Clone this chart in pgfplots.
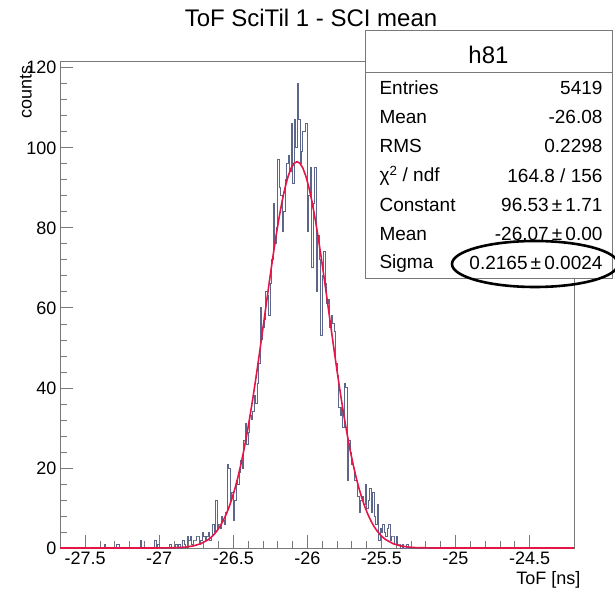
\documentclass[border=0pt]{standalone}
\usepackage{fontspec}
\setmainfont{Liberation Sans}
\usepackage{pgfplots}
\pgfplotsset{compat=1.18}
\definecolor{histc}{RGB}{92,102,138}
\definecolor{fitc}{RGB}{228,22,72}
\definecolor{framec}{RGB}{120,120,120}

\begin{document}
\begin{tikzpicture}[x=1pt,y=1pt]
\useasboundingbox (0,0) rectangle (615,594);
\begin{axis}[at={(60pt,46pt)}, anchor=south west, scale only axis, width=514pt, height=487pt,
 xmin=-27.67, xmax=-24.2, ymin=0, ymax=121.7,
 axis line style={framec, line width=0.8pt},
 xtick={-27.5,-27,-26.5,-26,-25.5,-25,-24.5},
 xticklabels={-27.5,-27,-26.5,-26,-25.5,-25,-24.5},
 ytick={0,20,40,60,80,100,120},
 yticklabels={0,20,40,60,80,100,120},
 minor x tick num=4, minor y tick num=4,
 tick align=inside, xtick pos=bottom, ytick pos=left,
 major tick length=13pt, minor tick length=7pt,
 tick style={framec, line width=0.8pt},
 ticklabel style={font=\fontsize{18}{20}\selectfont},
 clip=false,
]
% histogram (bin left edges, width 0.01 ns)
\addplot[const plot, histc, line width=0.9pt] coordinates {
(-27.67,0) (-27.37,1) (-27.36,0) (-27.29,1) (-27.27,0) (-27.13,2) (-27.12,0)
(-27.03,2) (-27.02,0) (-27.01,1) (-27.00,0) (-26.93,1) (-26.92,0) (-26.89,1) (-26.88,0)
(-26.87,1) (-26.86,0) (-26.84,2) (-26.83,1) (-26.82,0) (-26.81,3) (-26.80,2) (-26.79,3)
(-26.78,1) (-26.77,2) (-26.76,2) (-26.75,3) (-26.74,3) (-26.73,1) (-26.72,2) (-26.71,4)
(-26.70,3) (-26.69,2) (-26.68,3) (-26.67,4) (-26.66,2) (-26.65,3) (-26.64,6) (-26.63,4)
(-26.62,12) (-26.61,5) (-26.60,6) (-26.59,5) (-26.58,8) (-26.57,7) (-26.56,6) (-26.55,9)
(-26.54,21) (-26.53,20) (-26.52,12) (-26.51,14) (-26.50,7) (-26.49,12) (-26.48,17)
(-26.47,16) (-26.46,19) (-26.45,22) (-26.44,20) (-26.43,27) (-26.42,31) (-26.41,26)
(-26.40,29) (-26.39,33) (-26.38,32) (-26.37,34) (-26.36,38) (-26.35,36) (-26.34,41)
(-26.33,46) (-26.32,60) (-26.31,52) (-26.30,55) (-26.29,57) (-26.28,64) (-26.27,63)
(-26.26,58) (-26.25,66) (-26.24,72) (-26.23,86) (-26.22,76) (-26.21,80) (-26.20,97)
(-26.19,90) (-26.18,88) (-26.17,79) (-26.16,84) (-26.15,92) (-26.14,96) (-26.13,98)
(-26.12,94) (-26.11,106) (-26.10,91) (-26.09,107) (-26.08,100) (-26.07,116) (-26.06,107)
(-26.05,96) (-26.04,99) (-26.03,104) (-26.02,104) (-26.01,106) (-26.00,79) (-25.99,88)
(-25.98,95) (-25.97,70) (-25.96,86) (-25.95,95) (-25.94,64) (-25.93,78) (-25.92,72)
(-25.91,53) (-25.90,68) (-25.89,74) (-25.88,66) (-25.87,61) (-25.86,62) (-25.85,55)
(-25.84,58) (-25.83,56) (-25.82,54) (-25.81,46) (-25.80,43) (-25.79,35) (-25.78,33)
(-25.77,35) (-25.76,30) (-25.75,41) (-25.74,40) (-25.73,17) (-25.72,27) (-25.71,24)
(-25.70,21) (-25.69,20) (-25.68,17) (-25.67,17) (-25.66,13) (-25.65,9) (-25.64,12)
(-25.63,13) (-25.62,11) (-25.61,16) (-25.60,10) (-25.59,12) (-25.58,15) (-25.57,9)
(-25.56,14) (-25.55,8) (-25.54,6) (-25.53,11) (-25.52,2) (-25.51,5) (-25.50,4)
(-25.49,6) (-25.48,4) (-25.47,3) (-25.46,5) (-25.45,6) (-25.44,2) (-25.43,3) (-25.42,3)
(-25.41,1) (-25.40,3) (-25.39,1) (-25.38,1) (-25.37,0) (-25.36,1) (-25.35,0)
(-25.33,1) (-25.32,0) (-24.20,0)
};
% Gaussian fit curve (sampled)
\addplot[fitc, line width=1.6pt] coordinates {
(-27.67,0) (-27.07,0) (-26.97,0.02) (-26.87,0.10) (-26.82,0.24) (-26.77,0.52)
(-26.72,1.06) (-26.67,2.07) (-26.65,2.67) (-26.63,3.40) (-26.61,4.30) (-26.59,5.39)
(-26.57,6.71) (-26.55,8.27) (-26.53,10.10) (-26.51,12.24) (-26.49,14.70) (-26.47,17.51)
(-26.45,20.69) (-26.43,24.22) (-26.41,28.12) (-26.39,32.38) (-26.37,36.96) (-26.35,41.83)
(-26.33,46.93) (-26.31,52.22) (-26.29,57.60) (-26.27,63.00) (-26.25,68.32) (-26.23,73.46)
(-26.21,78.32) (-26.19,82.78) (-26.17,86.76) (-26.15,90.16) (-26.13,92.89) (-26.11,94.90)
(-26.09,96.12) (-26.07,96.53) (-26.05,96.12) (-26.03,94.90) (-26.01,92.89) (-25.99,90.16)
(-25.97,86.76) (-25.95,82.78) (-25.93,78.32) (-25.91,73.46) (-25.89,68.32) (-25.87,63.00)
(-25.85,57.60) (-25.83,52.22) (-25.81,46.93) (-25.79,41.83) (-25.77,36.96) (-25.75,32.38)
(-25.73,28.12) (-25.71,24.22) (-25.69,20.69) (-25.67,17.51) (-25.65,14.70) (-25.63,12.24)
(-25.61,10.10) (-25.59,8.27) (-25.57,6.71) (-25.55,5.39) (-25.53,4.30) (-25.51,3.40)
(-25.49,2.67) (-25.47,2.07) (-25.42,1.06) (-25.37,0.52) (-25.32,0.24) (-25.27,0.10)
(-25.17,0.02) (-25.07,0) (-24.20,0)
};
\end{axis}
% title and axis titles
\node at (311,576) {\fontsize{24}{28}\selectfont ToF SciTil 1 - SCI mean};
\node[rotate=90, anchor=east, font=\fontsize{18}{20}\selectfont] at (26,532) {counts};
\node[anchor=east, font=\fontsize{18}{20}\selectfont] at (584,14) {ToF [ns]};
% statistics box
\draw[framec, line width=0.8pt, fill=white] (365,316) rectangle (612,564);
\draw[framec, line width=0.8pt] (365,522) -- (612,522);
\node at (488.5,539) {\fontsize{24}{26}\selectfont h81};
\begin{scope}[font=\fontsize{19}{21}\selectfont]
\node[anchor=west] at (376,506) {Entries};      \node[anchor=east] at (606,506) {5419};
\node[anchor=west] at (376,476.8) {Mean};       \node[anchor=east] at (606,476.8) {-26.08};
\node[anchor=west] at (376,447.6) {RMS};        \node[anchor=east] at (606,447.6) {0.2298};
\node[anchor=west] at (376,418.4) {χ\textsuperscript{2} / ndf}; \node[anchor=east] at (606,418.4) {164.8 / 156};
\node[anchor=west] at (376,389.2) {Constant};   \node[anchor=east] at (606,389.2) {96.53\,±\,1.71};
\node[anchor=west] at (376,360) {Mean};         \node[anchor=east] at (606,360) {-26.07\,±\,0.00};
\node[anchor=west] at (376,330.8) {Sigma};      \node[anchor=east] at (606,330.8) {0.2165\,±\,0.0024};
\end{scope}
\draw[line width=2.6pt] (535,330) ellipse [x radius=83, y radius=23];
\end{tikzpicture}
\end{document}
